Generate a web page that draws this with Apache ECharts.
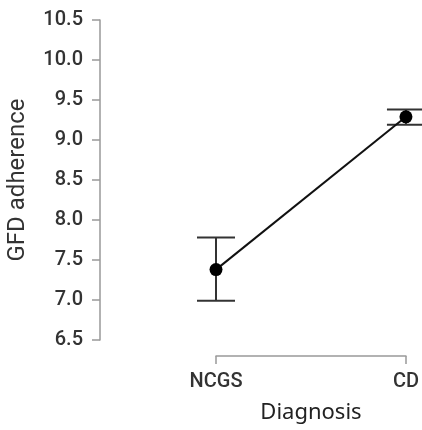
<!DOCTYPE html>
<html>
<head>
<meta charset="utf-8">
<script src="https://cdn.jsdelivr.net/npm/echarts@6/dist/echarts.min.js"></script>
<style>
  html, body { margin: 0; padding: 0; background: #fff; }
  #main { width: 422px; height: 430px; }
</style>
</head>
<body>
<div id="main"></div>
<script>
// 数据
var categories = ['NCGS', 'CD']
var means = [7.38, 9.29]
var lower = [6.99, 9.19]
var upper = [7.78, 9.38]
var yTicks = [6.5, 10.5, 0.5] // min, max, interval

var chart = echarts.init(document.getElementById('main'), null, { renderer: 'canvas' })

var labelFont = { fontFamily: 'Roboto', fontSize: 20, fontWeight: 500, color: '#333' }

var option = {
  backgroundColor: '#fff',
  animation: false,
  grid: { left: 216, right: 16, top: 20, bottom: 90 },
  xAxis: {
    type: 'category',
    data: categories,
    boundaryGap: false,
    offset: 16,
    name: 'Diagnosis',
    nameLocation: 'middle',
    nameGap: 46,
    nameTextStyle: { fontFamily: 'Noto Sans', fontSize: 22, color: '#222' },
    axisLine: { lineStyle: { color: '#999', width: 1.5 } },
    axisTick: { length: 8, lineStyle: { color: '#999', width: 1.5 } },
    axisLabel: Object.assign({ margin: 16 }, labelFont)
  },
  yAxis: {
    type: 'value',
    min: yTicks[0],
    max: yTicks[1],
    interval: yTicks[2],
    offset: 116,
    name: 'GFD adherence',
    nameLocation: 'middle',
    nameGap: 70,
    nameTextStyle: { fontFamily: 'Roboto', fontSize: 24, color: '#333' },
    splitLine: { show: false },
    axisLine: { show: true, lineStyle: { color: '#999', width: 1.5 } },
    axisTick: { show: true, length: 8, lineStyle: { color: '#999', width: 1.5 } },
    axisLabel: Object.assign({
      margin: 17,
      formatter: function (v) { return v.toFixed(1) }
    }, labelFont)
  },
  series: [
    {
      // 误差线
      type: 'custom',
      z: 2,
      data: categories.map(function (c, i) { return [i, lower[i], upper[i]] }),
      renderItem: function (params, api) {
        var lo = api.coord([api.value(0), api.value(1)])
        var hi = api.coord([api.value(0), api.value(2)])
        var hw = 19
        var style = { stroke: '#333', lineWidth: 2 }
        return {
          type: 'group',
          children: [
            { type: 'line', shape: { x1: lo[0], y1: lo[1], x2: hi[0], y2: hi[1] }, style: style },
            { type: 'line', shape: { x1: lo[0] - hw, y1: lo[1], x2: lo[0] + hw, y2: lo[1] }, style: style },
            { type: 'line', shape: { x1: hi[0] - hw, y1: hi[1], x2: hi[0] + hw, y2: hi[1] }, style: style }
          ]
        }
      }
    },
    {
      type: 'line',
      z: 3,
      data: means,
      symbol: 'circle',
      symbolSize: 13,
      itemStyle: { color: '#000' },
      lineStyle: { color: '#111', width: 2 }
    }
  ]
}

chart.setOption(option)
</script>
</body>
</html>
